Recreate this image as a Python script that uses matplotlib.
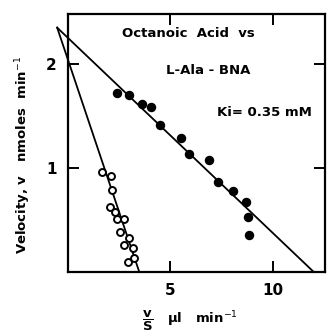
import numpy as np
import matplotlib
matplotlib.use("Agg")
import matplotlib.pyplot as plt

# %% data
closed_x = [2.38, 2.96, 3.61, 4.06, 4.48, 5.54, 5.93, 6.89, 7.34, 8.05, 8.71, 8.78, 8.86]
closed_y = [1.72, 1.70, 1.615, 1.59, 1.41, 1.29, 1.135, 1.074, 0.865, 0.776, 0.673, 0.532, 0.359]
open_x = [1.66, 2.08, 2.14, 2.03, 2.27, 2.40, 2.75, 2.56, 3.00, 2.72, 3.15, 2.93, 3.24]
open_y = [0.965, 0.923, 0.79, 0.628, 0.58, 0.51, 0.51, 0.388, 0.324, 0.26, 0.228, 0.10, 0.13]

# fitted lines: both start at the common point left of the axis
meet = (-0.53, 2.35)
closed_xint = 12.0
open_xint = 3.48

xticks = [5, 10]
yticks = [1, 2]

# %% figure
fig = plt.figure(figsize=(3.27, 3.36), dpi=100)
ax = fig.add_axes([0.208, 0.1905, 0.786, 0.7675])
ax.set_xlim(0, 12.55)
ax.set_ylim(0, 2.48)

for xi in (closed_xint, open_xint):
    ax.plot([meet[0], xi], [meet[1], 0], color="black", lw=1.3, clip_on=False)

ax.plot(closed_x, closed_y, "o", color="black", ms=5.8)
ax.plot(open_x, open_y, "o", mfc="white", mec="black", mew=1.4, ms=5.0)

for s in ax.spines.values():
    s.set_linewidth(1.6)

ax.set_xticks(xticks)
ax.set_yticks(yticks)
ax.tick_params(direction="in", length=8, width=1.4, top=True, right=True,
               labelsize=11, pad=8)
ax.set_xticklabels([str(t) for t in xticks], fontweight="bold")
ax.set_yticklabels([str(t) for t in yticks], fontweight="bold")

tkw = dict(ha="center", va="center", fontsize=9.5, fontweight="bold",
           transform=ax.transAxes)
ax.text(0.47, 0.925, "Octanoic  Acid  vs", **tkw)
ax.text(0.545, 0.78, "L-Ala - BNA", **tkw)
ax.text(0.765, 0.62, "Ki= 0.35 mM", **tkw)

fig.text(0.07, 0.54, "Velocity, v   nmoles  min$^{-1}$", rotation=90,
         ha="center", va="center", fontsize=9.5, fontweight="bold")
fig.text(0.58, 0.045, r"$\dfrac{\mathbf{v}}{\mathbf{S}}$   $\mathbf{\mu}$l   min$^{-1}$",
         ha="center", va="center", fontsize=9.5, fontweight="bold")

fig.savefig("out.png", dpi=100)
